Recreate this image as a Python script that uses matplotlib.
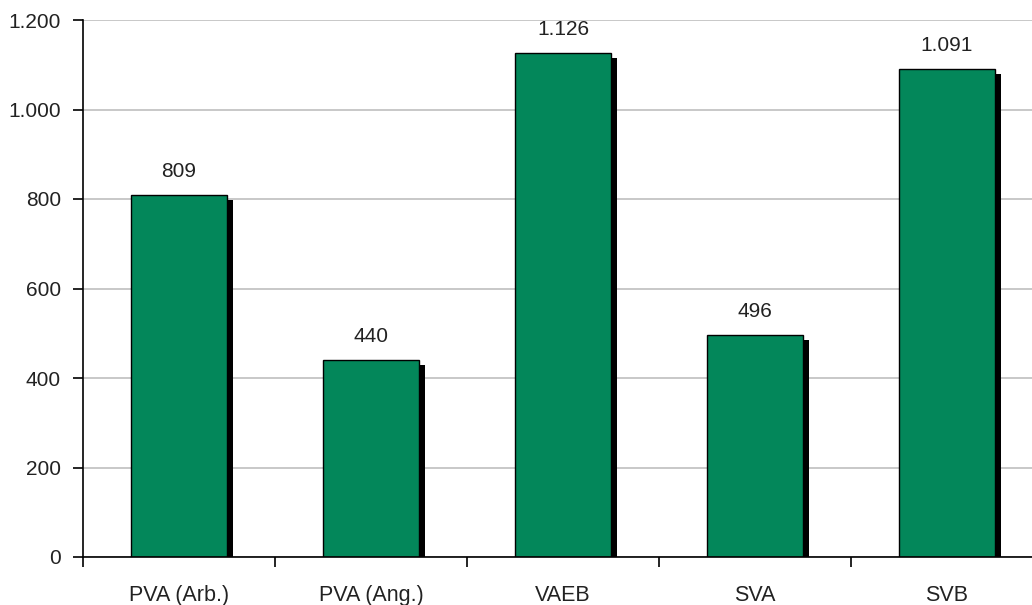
import matplotlib.pyplot as plt
import numpy as np

# datos
categorias = ['PVA (Arb.)', 'PVA (Ang.)', 'VAEB', 'SVA', 'SVB']
valores = [809, 440, 1126, 496, 1091]
etiquetas_y = ['0', '200', '400', '600', '800', '1.000', '1.200']

plt.rcParams['font.family'] = ['Liberation Sans', 'DejaVu Sans']

fig = plt.figure(figsize=(10.32, 6.05), dpi=100)
ax = fig.add_axes([83 / 1032, 1 - 557 / 605, 1 - 83 / 1032, (557 - 20) / 605])

x = np.arange(len(categorias))
ancho = 0.5
verde = '#03875a'

# sombra negra desplazada
px_x = 1 / 192
px_y = 1200 / 537
ax.bar(x + 6 * px_x, np.array(valores) - 5 * px_y, width=ancho, color='black', zorder=2)
ax.bar(x, valores, width=ancho, color=verde, edgecolor='black', linewidth=1, zorder=3)

for xi, v in zip(x, valores):
    txt = f'{v:,}'.replace(',', '.')
    ax.annotate(txt, (xi, v), xytext=(0, 17), textcoords='offset points',
                ha='center', va='center', fontsize=15, color='#222222')

ax.set_yticks(range(0, 1201, 200))
ax.set_yticklabels(etiquetas_y)
ax.set_xticks(x)
ax.set_xticklabels(categorias)
ax.set_xticks(np.arange(-0.5, len(categorias), 1), minor=True)
ax.set_xlim(-0.5, -0.5 + (1032 - 83) / 192)
ax.set_ylim(0, 1200)

ax.tick_params(axis='x', which='major', length=0, pad=20, labelsize=15.5, labelcolor='#222222')
ax.tick_params(axis='x', which='minor', length=7, width=1.2, direction='out')
ax.tick_params(axis='y', length=7, width=1.2, direction='out', pad=9, labelsize=15, labelcolor='#222222')

ax.grid(axis='y', color='#c4c4c4', linewidth=1.3, zorder=0)
ax.set_axisbelow(True)
for lado in ['top', 'right']:
    ax.spines[lado].set_visible(False)
for lado in ['left', 'bottom']:
    ax.spines[lado].set_linewidth(1.2)
ax.spines['bottom'].set_zorder(5)

fig.savefig('out.png', dpi=100)
